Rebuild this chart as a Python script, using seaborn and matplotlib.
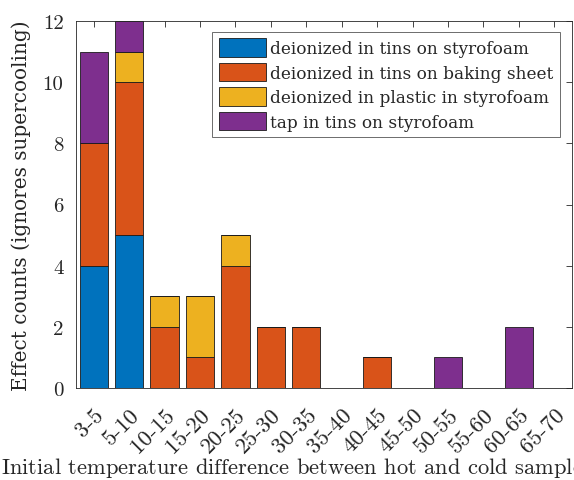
import numpy as np
import pandas as pd
import matplotlib
matplotlib.use("Agg")
import matplotlib.pyplot as plt
import seaborn as sns

categories = ["3-5", "5-10", "10-15", "15-20", "20-25", "25-30", "30-35",
              "35-40", "40-45", "45-50", "50-55", "55-60", "60-65", "65-70"]
series_names = ["deionized in tins on styrofoam",
                "deionized in tins on baking sheet",
                "deionized in plastic in styrofoam",
                "tap in tins on styrofoam"]
deion_styro = [4, 5, 0, 0, 0, 0, 0, 0, 0, 0, 0, 0, 0, 0]
deion_baking = [4, 5, 2, 1, 4, 2, 2, 0, 1, 0, 0, 0, 0, 0]
deion_plastic = [0, 1, 1, 2, 1, 0, 0, 0, 0, 0, 0, 0, 0, 0]
tap_styro = [3, 1, 0, 0, 0, 0, 0, 0, 0, 0, 1, 0, 2, 0]
yticks = [0, 2, 4, 6, 8, 10, 12]
colors = ["#0072BD", "#D95319", "#EDB120", "#7E2F8E"]

sns.set_theme(style="white")
plt.rcParams['font.family'] = ['DejaVu Serif']
plt.rcParams['mathtext.fontset'] = 'cm'

fig = plt.figure(figsize=(5.74, 4.81), dpi=100)
ax = fig.add_axes([76 / 574, 1 - 389 / 481, 496 / 574, 367 / 481])

bottom = np.zeros(len(categories))
for name, vals, c in zip(series_names,
                         [deion_styro, deion_baking, deion_plastic, tap_styro],
                         colors):
    df = pd.DataFrame({"range": categories, "count": vals})
    sns.barplot(data=df, x="range", y="count", order=categories, color=c,
                saturation=1, errorbar=None, width=0.8, bottom=bottom.copy(),
                edgecolor="#1a1a1a", linewidth=0.6, label=name, ax=ax)
    bottom += np.array(vals, dtype=float)

ax.set_xlim(-0.5, len(categories) - 0.5)
ax.set_ylim(0, 12)
ax.set_yticks(yticks)
ax.set_yticklabels([str(t) for t in yticks], fontfamily='cmr10', fontsize=15)
ax.set_xticks(range(len(categories)))
ax.set_xticklabels(categories, rotation=45, ha='right', va='top',
                   rotation_mode='anchor', fontfamily='cmr10', fontsize=16.5)

ax.tick_params(direction='in', top=True, right=True, length=4, width=0.6,
               color='#262626', labelcolor='#262626')
ax.tick_params(axis='y', pad=9)
ax.tick_params(axis='x', pad=12)
for s in ax.spines.values():
    s.set_visible(True)
    s.set_color('#262626')
    s.set_linewidth(0.6)

ax.set_ylabel("Effect counts (ignores supercooling)", fontsize=14.4,
              color='#262626', va='top')
ax.yaxis.set_label_coords(-0.131, 0.5)
ax.set_xlabel(r"Initial temperature difference between hot and cold samples ($^\circ$C)",
              fontfamily='cmr10', fontsize=16.2, color='#262626', va='top')
ax.xaxis.set_label_coords(0.5, -0.18)

leg = ax.legend(loc='upper right', bbox_to_anchor=(0.976, 0.970),
                borderaxespad=0, frameon=True, fancybox=False,
                edgecolor='#555555', fontsize=12.2, handlelength=2.8,
                handleheight=1.3, labelspacing=0.33, handletextpad=0.25,
                borderpad=0.38, framealpha=1)
leg.get_frame().set_linewidth(0.6)

fig.savefig("out.png", dpi=100)
